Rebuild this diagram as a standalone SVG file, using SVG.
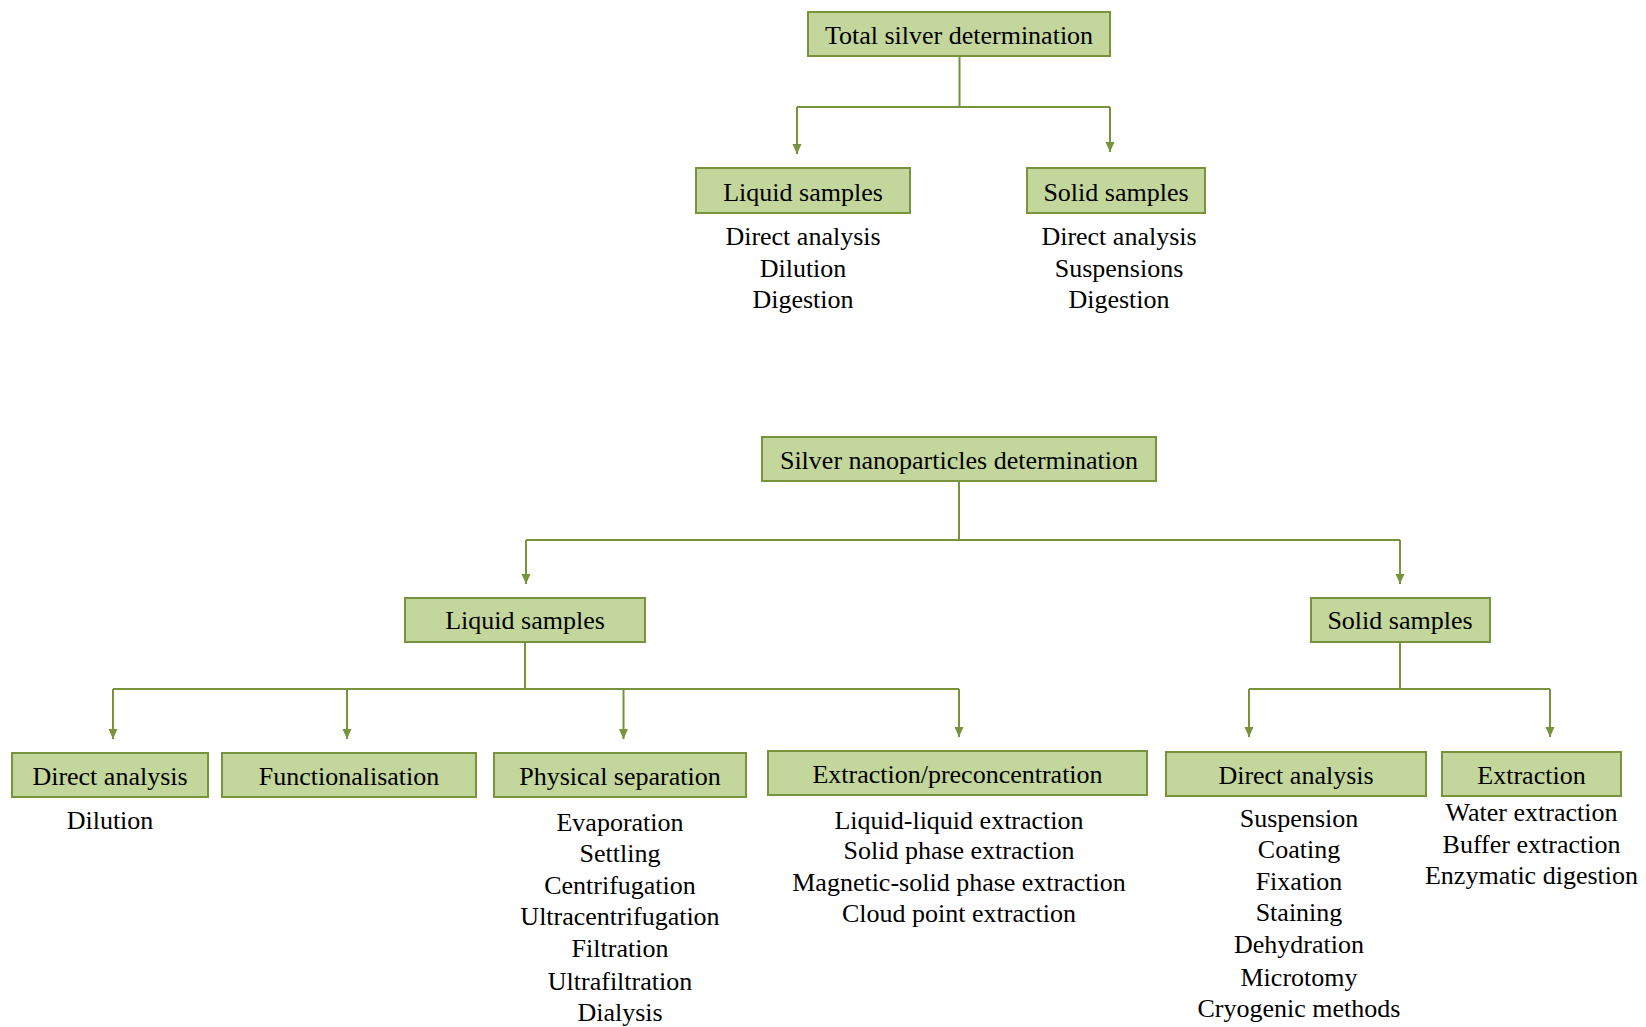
<svg xmlns="http://www.w3.org/2000/svg" width="1646" height="1027" viewBox="0 0 1646 1027">
<style>
.box{fill:#c3d69b;stroke:#77933c;stroke-width:2}
.t{font-family:"Liberation Serif","Times New Roman",serif;font-size:26px;fill:#000;text-anchor:middle}
.c{fill:none;stroke:#77933c;stroke-width:2}
</style>
<defs>
<marker id="ah" viewBox="0 0 10 10" refX="10" refY="5" markerWidth="10" markerHeight="10" markerUnits="userSpaceOnUse" orient="auto">
<path d="M0,0.5 L10,5 L0,9.5 Z" fill="#77933c"/>
</marker>
</defs>
<rect width="1646" height="1027" fill="#fff"/>
<g id="connectors">
<path class="c" d="M959.5 57 V107 M797 107 H1110"/>
<path class="c" d="M797 107 V154" marker-end="url(#ah)"/>
<path class="c" d="M1110 107 V152" marker-end="url(#ah)"/>
<path class="c" d="M959 481 V540 M526 540 H1400"/>
<path class="c" d="M526 540 V584" marker-end="url(#ah)"/>
<path class="c" d="M1400 540 V584" marker-end="url(#ah)"/>
<path class="c" d="M525 642 V689 M113 689 H959"/>
<path class="c" d="M113 689 V739" marker-end="url(#ah)"/>
<path class="c" d="M347 689 V739" marker-end="url(#ah)"/>
<path class="c" d="M623.5 689 V739" marker-end="url(#ah)"/>
<path class="c" d="M959 689 V737" marker-end="url(#ah)"/>
<path class="c" d="M1400 642 V689 M1249 689 H1550"/>
<path class="c" d="M1249 689 V737" marker-end="url(#ah)"/>
<path class="c" d="M1550 689 V737" marker-end="url(#ah)"/>
</g>
<g id="total-silver">
<rect class="box" x="808" y="12" width="302" height="44"/>
<text class="t" x="959" y="44">Total silver determination</text>
</g>
<g id="total-liquid">
<rect class="box" x="696" y="168" width="214" height="45"/>
<text class="t" x="803" y="201">Liquid samples</text>
<text class="t" x="803" y="245">Direct analysis</text>
<text class="t" x="803" y="277">Dilution</text>
<text class="t" x="803" y="308">Digestion</text>
</g>
<g id="total-solid">
<rect class="box" x="1027" y="168" width="178" height="45"/>
<text class="t" x="1116" y="201">Solid samples</text>
<text class="t" x="1119" y="245">Direct analysis</text>
<text class="t" x="1119" y="277">Suspensions</text>
<text class="t" x="1119" y="308">Digestion</text>
</g>
<g id="np">
<rect class="box" x="762" y="437" width="394" height="44"/>
<text class="t" x="959" y="469">Silver nanoparticles determination</text>
</g>
<g id="np-liquid">
<rect class="box" x="405" y="598" width="240" height="44"/>
<text class="t" x="525" y="629">Liquid samples</text>
</g>
<g id="np-solid">
<rect class="box" x="1311" y="598" width="179" height="44"/>
<text class="t" x="1400" y="629">Solid samples</text>
</g>
<g id="liq-direct">
<rect class="box" x="12" y="753" width="196" height="44"/>
<text class="t" x="110" y="785">Direct analysis</text>
<text class="t" x="110" y="829">Dilution</text>
</g>
<g id="liq-func">
<rect class="box" x="222" y="753" width="254" height="44"/>
<text class="t" x="349" y="785">Functionalisation</text>
</g>
<g id="liq-phys">
<rect class="box" x="494" y="753" width="252" height="44"/>
<text class="t" x="620" y="785">Physical separation</text>
<text class="t" x="620" y="831">Evaporation</text>
<text class="t" x="620" y="862">Settling</text>
<text class="t" x="620" y="894">Centrifugation</text>
<text class="t" x="620" y="925">Ultracentrifugation</text>
<text class="t" x="620" y="957">Filtration</text>
<text class="t" x="620" y="990">Ultrafiltration</text>
<text class="t" x="620" y="1021">Dialysis</text>
</g>
<g id="liq-extr">
<rect class="box" x="768" y="751" width="379" height="44"/>
<text class="t" x="957.5" y="783">Extraction/preconcentration</text>
<text class="t" x="959" y="829">Liquid-liquid extraction</text>
<text class="t" x="959" y="859">Solid phase extraction</text>
<text class="t" x="959" y="891">Magnetic-solid phase extraction</text>
<text class="t" x="959" y="922">Cloud point extraction</text>
</g>
<g id="sol-direct">
<rect class="box" x="1166" y="752" width="260" height="44"/>
<text class="t" x="1296" y="784">Direct analysis</text>
<text class="t" x="1299" y="827">Suspension</text>
<text class="t" x="1299" y="858">Coating</text>
<text class="t" x="1299" y="890">Fixation</text>
<text class="t" x="1299" y="921">Staining</text>
<text class="t" x="1299" y="953">Dehydration</text>
<text class="t" x="1299" y="986">Microtomy</text>
<text class="t" x="1299" y="1017">Cryogenic methods</text>
</g>
<g id="sol-extr">
<rect class="box" x="1442" y="752" width="179" height="44"/>
<text class="t" x="1531.5" y="784">Extraction</text>
<text class="t" x="1531.5" y="821">Water extraction</text>
<text class="t" x="1531.5" y="853">Buffer extraction</text>
<text class="t" x="1531.5" y="884">Enzymatic digestion</text>
</g>
</svg>
